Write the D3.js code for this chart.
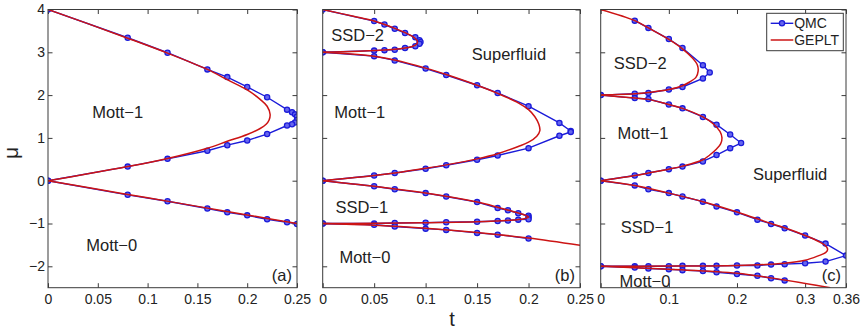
<!DOCTYPE html>
<html>
<head>
<meta charset="utf-8">
<title>Phase diagrams: QMC vs GEPLT</title>
<script src="https://cdn.jsdelivr.net/npm/d3@7"></script>
<style>
  body { margin: 0; background: #fff; }
  svg { display: block; font-family: "Liberation Sans", Arial, Helvetica, sans-serif; }
  .frame { fill: none; stroke: #3a3a3a; stroke-width: 1; }
  .axis path { display: none; }
  .axis line { stroke: #3a3a3a; }
  .axis text { font-family: "Liberation Sans", Arial, Helvetica, sans-serif; font-size: 14px; fill: #222; }
  .region { font-size: 16.5px; fill: #222; }
</style>
</head>
<body>
<svg width="862" height="329"></svg>
<script>

// ---- data: [t, mu] pairs ----

// panel (a)
var qmcA_mott1 = [[0,4],[0.08,3.34],[0.12,2.99],[0.16,2.6],[0.18,2.42],[0.2,2.19],[0.22,1.95],[0.24,1.66],[0.245,1.6],[0.248,1.55],[0.25,1.5],[0.25,1.42],[0.248,1.36],[0.245,1.32],[0.24,1.29],[0.22,1.09],[0.2,0.94],[0.18,0.83],[0.16,0.7],[0.12,0.51],[0.08,0.33],[0,0]];
var qmcA_mott0 = [[0,0],[0.08,-0.33],[0.12,-0.48],[0.16,-0.65],[0.18,-0.74],[0.2,-0.81],[0.22,-0.9],[0.24,-0.97],[0.25,-1.01]];
var gepA_mott1 = [[0,4],[0.04,3.67],[0.08,3.33],[0.12,2.98],[0.16,2.6],[0.18,2.36],[0.2,2.12],[0.213,1.9],[0.22,1.74],[0.223,1.55],[0.222,1.42],[0.219,1.32],[0.213,1.22],[0.2,1.08],[0.18,0.92],[0.16,0.76],[0.12,0.52],[0.08,0.33],[0.04,0.16],[0,0]];
var gepA_mott0 = [[0,0],[0.05,-0.2],[0.1,-0.4],[0.15,-0.6],[0.2,-0.8],[0.25,-1.0]];

// panel (b)
var qmcB_ssd2 = [[0,4],[0.05,3.73],[0.06,3.65],[0.07,3.55],[0.08,3.45],[0.09,3.35],[0.094,3.28],[0.095,3.24],[0.094,3.2],[0.09,3.14],[0.08,3.1],[0.07,3.06],[0.06,3.05],[0.05,3.04],[0,3]];
var qmcB_mott1 = [[0,3],[0.05,2.91],[0.07,2.81],[0.1,2.62],[0.12,2.47],[0.15,2.23],[0.17,2.05],[0.2,1.74],[0.23,1.35],[0.241,1.16],[0.241,1.14],[0.23,1.05],[0.2,0.76],[0.17,0.59],[0.15,0.49],[0.12,0.36],[0.1,0.28],[0.07,0.18],[0.05,0.12],[0,0]];
var qmcB_ssd1 = [[0,0],[0.05,-0.13],[0.07,-0.2],[0.1,-0.29],[0.12,-0.37],[0.15,-0.5],[0.17,-0.64],[0.18,-0.69],[0.19,-0.76],[0.2,-0.82],[0.2,-0.86],[0.2,-0.9],[0.19,-0.91],[0.18,-0.93],[0.17,-0.94],[0.15,-0.96],[0.12,-0.97],[0.1,-0.98],[0.07,-0.99],[0.05,-1.0],[0,-1]];
var qmcB_mott0 = [[0,-1],[0.05,-1.03],[0.07,-1.07],[0.1,-1.12],[0.12,-1.15],[0.15,-1.22],[0.17,-1.26],[0.2,-1.35]];
var gepB_ssd2 = [[0,4],[0.03,3.84],[0.05,3.73],[0.07,3.56],[0.08,3.46],[0.088,3.36],[0.092,3.26],[0.091,3.18],[0.086,3.13],[0.07,3.07],[0.05,3.04],[0.02,3.01],[0,3]];
var gepB_mott1 = [[0,3],[0.05,2.91],[0.07,2.82],[0.1,2.63],[0.12,2.48],[0.15,2.23],[0.17,2.04],[0.19,1.82],[0.2,1.66],[0.206,1.5],[0.21,1.32],[0.211,1.17],[0.208,1.04],[0.2,0.9],[0.19,0.8],[0.17,0.63],[0.15,0.51],[0.12,0.37],[0.1,0.29],[0.07,0.18],[0.05,0.12],[0,0]];
var gepB_ssd1 = [[0,0],[0.05,-0.13],[0.1,-0.29],[0.15,-0.5],[0.17,-0.62],[0.185,-0.72],[0.195,-0.79],[0.2,-0.85],[0.196,-0.89],[0.185,-0.92],[0.17,-0.94],[0.15,-0.96],[0.1,-0.98],[0.05,-0.995],[0,-1]];
var gepB_mott0 = [[0,-1],[0.05,-1.04],[0.1,-1.11],[0.15,-1.21],[0.2,-1.34],[0.25,-1.51]];

// panel (c)
var qmcC_ssd2 = [[0.05,3.74],[0.07,3.57],[0.1,3.31],[0.12,3.1],[0.15,2.7],[0.16,2.53],[0.15,2.39],[0.12,2.19],[0.1,2.13],[0.07,2.05],[0.05,2.03],[0,2]];
var qmcC_mott1 = [[0,2],[0.05,1.93],[0.07,1.91],[0.1,1.78],[0.12,1.69],[0.15,1.49],[0.17,1.31],[0.19,1.08],[0.206,0.88],[0.19,0.76],[0.17,0.6],[0.15,0.45],[0.12,0.33],[0.1,0.27],[0.07,0.18],[0.05,0.12],[0,0]];
var qmcC_ssd1 = [[0,0],[0.05,-0.11],[0.07,-0.2],[0.1,-0.29],[0.12,-0.37],[0.15,-0.49],[0.17,-0.6],[0.2,-0.74],[0.23,-0.91],[0.25,-1.01],[0.27,-1.11],[0.3,-1.28],[0.33,-1.47],[0.36,-1.75],[0.33,-1.89],[0.3,-1.93],[0.27,-1.95],[0.25,-1.96],[0.23,-1.98],[0.2,-1.98],[0.17,-1.99],[0.15,-1.99],[0.12,-1.99],[0.1,-2.0],[0.07,-2.0],[0.05,-2.0],[0,-2]];
var qmcC_mott0 = [[0,-2],[0.05,-2.03],[0.07,-2.05],[0.1,-2.07],[0.12,-2.09],[0.15,-2.11],[0.17,-2.14],[0.2,-2.18],[0.23,-2.22],[0.25,-2.28],[0.27,-2.33]];
var gepC_ssd2 = [[0,4],[0.05,3.74],[0.07,3.57],[0.1,3.3],[0.12,3.08],[0.135,2.86],[0.142,2.7],[0.143,2.56],[0.14,2.42],[0.13,2.3],[0.12,2.22],[0.1,2.13],[0.07,2.06],[0.05,2.03],[0,2]];
var gepC_mott1 = [[0,2],[0.05,1.93],[0.07,1.9],[0.1,1.78],[0.12,1.69],[0.15,1.49],[0.165,1.33],[0.175,1.15],[0.178,1.0],[0.176,0.86],[0.17,0.74],[0.16,0.6],[0.15,0.49],[0.12,0.34],[0.1,0.27],[0.07,0.18],[0.05,0.12],[0,0]];
var gepC_ssd1 = [[0,0],[0.05,-0.11],[0.1,-0.29],[0.15,-0.49],[0.2,-0.73],[0.25,-1.0],[0.27,-1.1],[0.3,-1.28],[0.32,-1.42],[0.33,-1.52],[0.333,-1.61],[0.33,-1.68],[0.32,-1.75],[0.3,-1.86],[0.27,-1.93],[0.2,-1.98],[0.1,-1.995],[0,-2]];
var gepC_mott0 = [[0,-2],[0.1,-2.07],[0.2,-2.16],[0.27,-2.32],[0.337,-2.5]];

// axis ticks
var muTicks = [-2, -1, 0, 1, 2, 3, 4];
var tTicksAB = [0, 0.05, 0.1, 0.15, 0.2, 0.25];
var tTicksC = [0, 0.1, 0.2, 0.3, 0.36];

// region labels per panel: [text, t, mu]
var labelsA = [["Mott\u22121", 0.07, 1.6], ["Mott\u22120", 0.064, -1.5]];
var labelsB = [["SSD\u22122", 0.034, 3.4], ["Superfluid", 0.181, 2.95], ["Mott\u22121", 0.036, 1.6], ["SSD\u22121", 0.038, -0.63], ["Mott\u22120", 0.041, -1.78]];
var labelsC = [["SSD\u22122", 0.058, 2.75], ["Mott\u22121", 0.062, 1.12], ["Superfluid", 0.278, 0.16], ["SSD\u22121", 0.068, -1.08], ["Mott\u22120", 0.065, -2.36]];

// ---- layout ----
var svg = d3.select("svg");
var yTop = 9.5, yBottom = 287.7;
var blue = "#1b1bd9", red = "#cc1414", dotFill = "#6666ee";

var panels = [
  { x0: 48, x1: 297, tMax: 0.25, ticks: tTicksAB, yLabels: true, tag: "(a)",
    qmc: [qmcA_mott1, qmcA_mott0], gep: [gepA_mott1, gepA_mott0], labels: labelsA },
  { x0: 322.7, x1: 580, tMax: 0.25, ticks: tTicksAB, yLabels: false, tag: "(b)",
    qmc: [qmcB_ssd2, qmcB_mott1, qmcB_ssd1, qmcB_mott0], gep: [gepB_ssd2, gepB_mott1, gepB_ssd1, gepB_mott0], labels: labelsB },
  { x0: 600.7, x1: 846, tMax: 0.36, ticks: tTicksC, yLabels: false, tag: "(c)",
    qmc: [qmcC_ssd2, qmcC_mott1, qmcC_ssd1, qmcC_mott0], gep: [gepC_ssd2, gepC_mott1, gepC_ssd1, gepC_mott0], labels: labelsC }
];

var y = d3.scaleLinear().domain([-2.5, 4]).range([yBottom, yTop]);
var fmt = d3.format("~g");

panels.forEach(function (p, i) {
  var x = d3.scaleLinear().domain([0, p.tMax]).range([p.x0, p.x1]);
  var w = p.x1 - p.x0, h = yBottom - yTop;

  svg.append("clipPath").attr("id", "clip" + i)
    .append("rect").attr("x", p.x0).attr("y", yTop).attr("width", w).attr("height", h);

  // ticks (inward, matlab style)
  svg.append("g").attr("class", "axis").attr("transform", "translate(0," + yBottom + ")")
    .call(d3.axisBottom(x).tickValues(p.ticks).tickFormat(fmt).tickSizeInner(-4.5).tickSizeOuter(0).tickPadding(6.5));
  svg.append("g").attr("class", "axis").attr("transform", "translate(0," + yTop + ")")
    .call(d3.axisTop(x).tickValues(p.ticks).tickFormat("").tickSizeInner(-4.5).tickSizeOuter(0));
  svg.append("g").attr("class", "axis").attr("transform", "translate(" + p.x0 + ",0)")
    .call(d3.axisLeft(y).tickValues(muTicks).tickFormat(p.yLabels ? fmt : "").tickSizeInner(-4.5).tickSizeOuter(0).tickPadding(3));
  svg.append("g").attr("class", "axis").attr("transform", "translate(" + p.x1 + ",0)")
    .call(d3.axisRight(y).tickValues(muTicks).tickFormat("").tickSizeInner(-4.5).tickSizeOuter(0));

  var g = svg.append("g").attr("clip-path", "url(#clip" + i + ")");

  var qmcLine = d3.line().x(function (d) { return x(d[0]); }).y(function (d) { return y(d[1]); });
  var gepLine = d3.line().x(function (d) { return x(d[0]); }).y(function (d) { return y(d[1]); })
    .curve(d3.curveCatmullRom.alpha(0.5));

  p.qmc.forEach(function (s) {
    g.append("path").attr("d", qmcLine(s)).attr("fill", "none").attr("stroke", blue).attr("stroke-width", 1.4);
  });
  p.qmc.forEach(function (s) {
    g.selectAll(null).data(s).enter().append("circle")
      .attr("cx", function (d) { return x(d[0]); })
      .attr("cy", function (d) { return y(d[1]); })
      .attr("r", 2.6)
      .attr("fill", dotFill).attr("stroke", blue).attr("stroke-width", 1.3);
  });
  p.gep.forEach(function (s) {
    g.append("path").attr("d", gepLine(s)).attr("fill", "none").attr("stroke", red).attr("stroke-width", 1.5);
  });

  p.labels.forEach(function (l) {
    svg.append("text").attr("class", "region")
      .attr("x", x(l[1])).attr("y", y(l[2]))
      .attr("text-anchor", "middle").attr("dy", "0.35em")
      .text(l[0]);
  });

  svg.append("text").attr("class", "region")
    .attr("x", p.x1 - 5).attr("y", yBottom - 12)
    .attr("text-anchor", "end").attr("dy", "0.35em")
    .text(p.tag);

  svg.append("rect").attr("class", "frame")
    .attr("x", p.x0).attr("y", yTop).attr("width", w).attr("height", h);
});

// axis titles
svg.append("text").attr("x", 452).attr("y", 326).attr("text-anchor", "middle")
  .style("font-size", "20px").attr("fill", "#222").text("t");
svg.append("text").attr("transform", "translate(18,153) rotate(-90)").attr("text-anchor", "middle")
  .style("font-size", "21px").attr("fill", "#222").text("\u03bc");

// legend
var leg = svg.append("g").attr("transform", "translate(766.7,13.3)");
leg.append("rect").attr("width", 76.6).attr("height", 37.4).attr("fill", "#fff").attr("stroke", "#3a3a3a");
leg.append("line").attr("x1", 4).attr("x2", 26.6).attr("y1", 10).attr("y2", 10).attr("stroke", blue).attr("stroke-width", 1.4);
leg.append("circle").attr("cx", 15.3).attr("cy", 10).attr("r", 2.6).attr("fill", dotFill).attr("stroke", blue).attr("stroke-width", 1.3);
leg.append("line").attr("x1", 4).attr("x2", 26.6).attr("y1", 26.7).attr("y2", 26.7).attr("stroke", red).attr("stroke-width", 1.5);
leg.append("text").attr("x", 27.5).attr("y", 10).attr("dy", "0.35em").style("font-size", "14px").attr("fill", "#222").text("QMC");
leg.append("text").attr("x", 27.5).attr("y", 26.7).attr("dy", "0.35em").style("font-size", "14px").attr("fill", "#222").text("GEPLT");

</script>
</body>
</html>
